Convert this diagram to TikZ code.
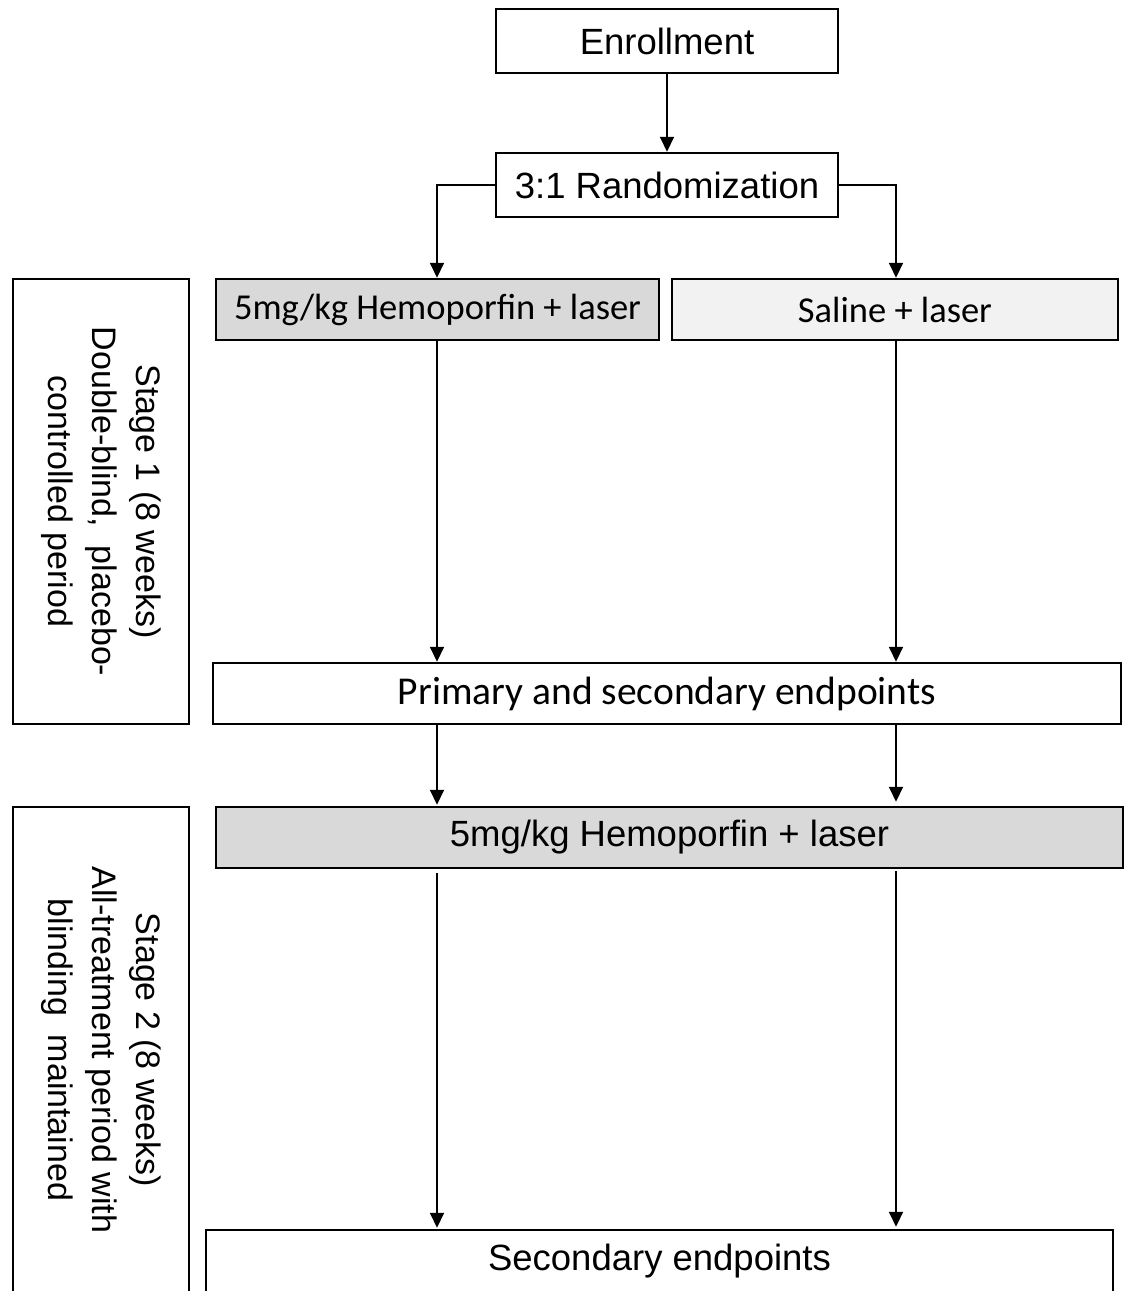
\documentclass[tikz,border=0pt]{standalone}
\usepackage{fontspec}
\setmainfont{Liberation Sans}
\newfontfamily\calibri{Carlito}
\usetikzlibrary{arrows.meta}
\definecolor{darkfill}{HTML}{D9D9D9}
\definecolor{lightfill}{HTML}{F2F2F2}
\tikzset{
  box/.style={draw=black, line width=2.5pt, inner sep=0pt, align=center,
    font=\fontsize{36.5}{44}\selectfont},
  cbox/.style={box, font=\calibri\fontsize{36.5}{44}\selectfont},
  stagebox/.style={box, rotate=-90, font=\fontsize{34}{44}\selectfont},
  arr/.style={line width=2pt, -{Triangle[width=14pt,length=15pt]}},
}
\begin{document}
\begin{tikzpicture}[x=1pt,y=-1pt]
\clip (0,0) rectangle (1128,1291);
\fill[white] (0,0) rectangle (1128,1291);

\node[box, minimum width=342pt, minimum height=64pt] (enroll) at (667,41) {Enrollment};
\node[box, minimum width=342pt, minimum height=64pt] (rand) at (667,185) {3:1 Randomization};
\node[cbox, fill=darkfill, minimum width=443pt, minimum height=61pt] (hemoA) at (437.5,309.5) {5mg/kg Hemoporfin + laser};
\node[cbox, fill=lightfill, minimum width=446pt, minimum height=61pt] (saline) at (895,309.5) {Saline + laser};
\node[stagebox, minimum width=445pt, minimum height=176pt] (stageA) at (101,501.5)
  {Stage 1 (8 weeks)\\Double-blind,\ \ placebo-\\controlled period};
\node[cbox, font=\calibri\fontsize{39.5}{44}\selectfont, minimum width=908pt, minimum height=61pt] (primary) at (667,693.5) {Primary and secondary endpoints};
\node[box, fill=darkfill, minimum width=907pt, minimum height=61pt] (hemoB) at (669.5,837.5) {5mg/kg Hemoporfin + laser};
\node[stagebox, minimum width=486pt, minimum height=176pt] (stageB) at (101,1050)
  {Stage 2 (8 weeks)\\All-treatment period with\\blinding\ \ maintained};
\node[box, minimum width=907pt, minimum height=62pt] (secondary) at (659.5,1261) {Secondary endpoints};

\coordinate (cl) at (437,0);
\coordinate (cr) at (896,0);

\draw[arr] (enroll.south) -- (rand.north);
\draw[arr] (rand.west) -| (hemoA.north -| cl);
\draw[arr] (rand.east) -| (saline.north -| cr);
\draw[arr] (hemoA.south -| cl) -- (primary.north -| cl);
\draw[arr] (saline.south -| cr) -- (primary.north -| cr);
\draw[arr, shorten >=1pt] (primary.south -| cl) -- (hemoB.north -| cl);
\draw[arr, shorten >=4pt] (primary.south -| cr) -- (hemoB.north -| cr);
\draw[arr, shorten <=4pt, shorten >=1pt] (hemoB.south -| cl) -- (secondary.north -| cl);
\draw[arr, shorten <=2pt, shorten >=2pt] (hemoB.south -| cr) -- (secondary.north -| cr);
\end{tikzpicture}
\end{document}
